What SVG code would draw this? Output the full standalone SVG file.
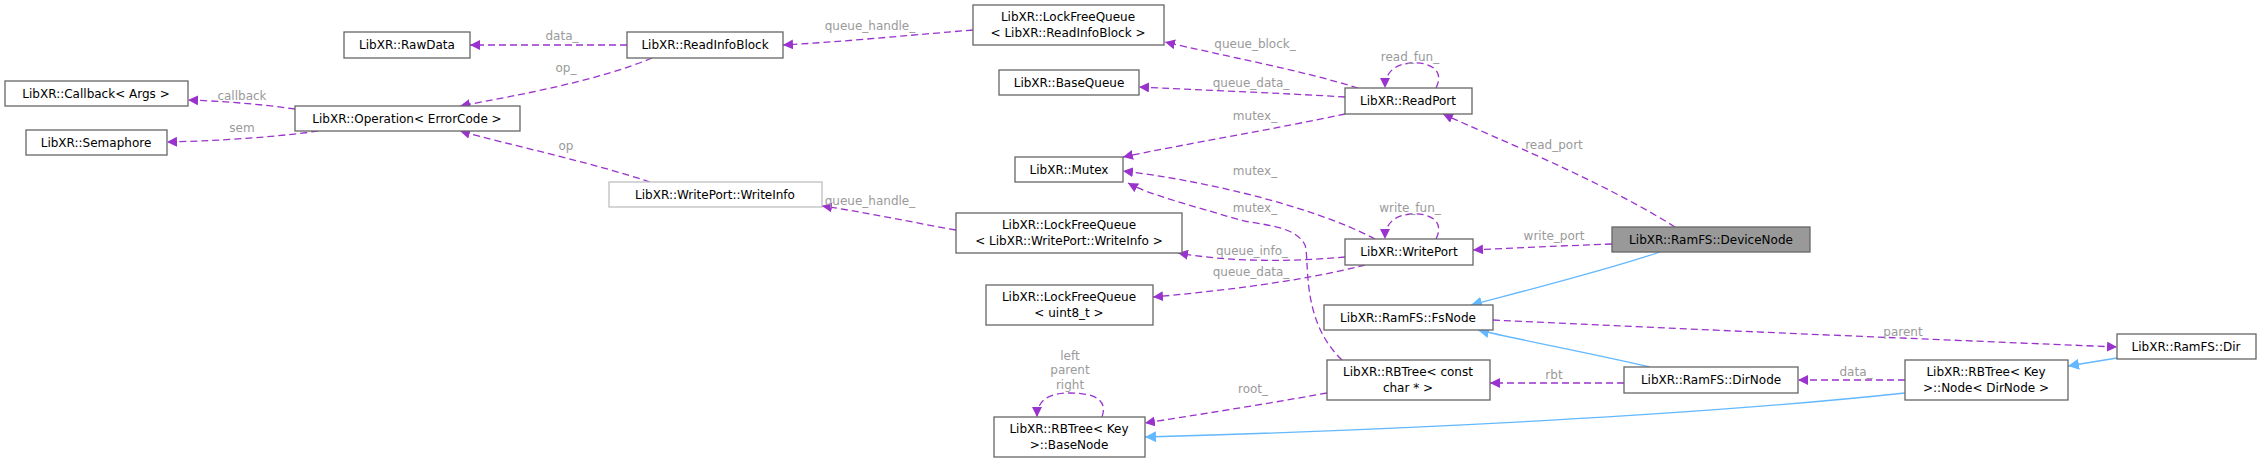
<svg xmlns="http://www.w3.org/2000/svg" width="2261" height="463" viewBox="0 0 2261 463">
<style>
.n rect{fill:#fff;stroke:#666;stroke-width:1.3}
.n text{font-family:"DejaVu Sans",sans-serif;font-size:12px;fill:#000;text-anchor:middle}
.u{fill:none;stroke:#9a32cd;stroke-width:1.3;stroke-dasharray:7,4;marker-end:url(#ap)}
.i{fill:none;stroke:#63b8ff;stroke-width:1.3;marker-end:url(#ab)}
.l{font-family:"DejaVu Sans",sans-serif;font-size:12px;fill:#9a9a9a;text-anchor:middle}
</style>
<defs>
<marker id="ap" viewBox="0 0 10 10" refX="10" refY="5" markerWidth="10" markerHeight="10" markerUnits="userSpaceOnUse" orient="auto"><path d="M0,0L10,5L0,10z" fill="#9a32cd"/></marker>
<marker id="ab" viewBox="0 0 10 10" refX="10" refY="5" markerWidth="11" markerHeight="11" markerUnits="userSpaceOnUse" orient="auto"><path d="M0,0L10,5L0,10z" fill="#63b8ff"/></marker>
</defs>
<rect width="2261" height="463" fill="#fff"/>
<g id="edges">
<path class="u" d="M627,45L470,45"/><text class="l" x="562" y="40">data_</text>
<path class="u" d="M652,58C600,80 520,95 460,106"/><text class="l" x="566" y="72">op_</text>
<path class="u" d="M295,109C260,104 220,101 188,100"/><text class="l" x="242" y="100">callback</text>
<path class="u" d="M318,131C270,138 210,141 167,142"/><text class="l" x="242" y="132">sem</text>
<path class="u" d="M650,182C590,162 510,145 460,131"/><text class="l" x="566" y="150">op</text>
<path class="u" d="M973,30C900,36 840,42 783,45"/><text class="l" x="870" y="30">queue_handle_</text>
<path class="u" d="M956,230C910,222 865,212 822,206"/><text class="l" x="870" y="205">queue_handle_</text>
<path class="u" d="M1358,88C1300,70 1220,55 1165,42"/><text class="l" x="1255" y="48">queue_block_</text>
<path class="u" d="M1436,88C1445,70 1430,62 1412,63C1395,64 1385,72 1385,88"/><text class="l" x="1410" y="61">read_fun_</text>
<path class="u" d="M1345,97C1280,93 1200,90 1139,87"/><text class="l" x="1251" y="87">queue_data_</text>
<path class="u" d="M1345,114C1280,128 1180,145 1123,157"/><text class="l" x="1255" y="120">mutex_</text>
<path class="u" d="M1375,239C1310,205 1200,180 1123,171"/><text class="l" x="1255" y="175">mutex_</text>
<path class="u" d="M1342,360C1300,320 1310,260 1305,245C1295,225 1260,225 1240,220C1190,205 1150,195 1128,183"/><text class="l" x="1255" y="212">mutex_</text>
<path class="u" d="M1436,239C1445,221 1430,213 1412,214C1395,215 1385,223 1385,239"/><text class="l" x="1410" y="212">write_fun_</text>
<path class="u" d="M1345,257C1290,262 1230,262 1178,253"/><text class="l" x="1252" y="255">queue_info_</text>
<path class="u" d="M1365,265C1300,282 1210,292 1153,297"/><text class="l" x="1251" y="276">queue_data_</text>
<path class="u" d="M1675,227C1600,180 1500,140 1443,114"/><text class="l" x="1554" y="149">read_port</text>
<path class="u" d="M1612,244C1560,246 1510,248 1473,250"/><text class="l" x="1554" y="240">write_port</text>
<path class="i" d="M1660,252C1600,272 1520,292 1471,305"/>
<path class="u" d="M1493,320C1700,330 1950,340 2117,347"/><text class="l" x="1903" y="336">parent</text>
<path class="i" d="M1650,367C1590,353 1520,340 1478,330"/>
<path class="u" d="M1624,383L1490,383"/><text class="l" x="1554" y="379">rbt</text>
<path class="u" d="M1327,393C1260,405 1190,416 1145,423"/><text class="l" x="1253" y="393">root_</text>
<path class="u" d="M1102,417C1108,400 1095,393 1070,393C1045,393 1037,403 1037,417"/><text class="l" x="1070" y="360">left</text><text class="l" x="1070" y="374">parent</text><text class="l" x="1070" y="389">right</text>
<path class="u" d="M1905,380L1798,380"/><text class="l" x="1856" y="376">data_</text>
<path class="i" d="M1905,393C1700,415 1400,430 1145,437"/>
<path class="i" d="M2117,358L2068,366"/>
</g>
<g id="RawData" class="n"><rect x="344" y="32" width="126" height="26"/><text x="407" y="49">LibXR::RawData</text></g>
<g id="ReadInfoBlock" class="n"><rect x="627" y="32" width="156" height="26"/><text x="705" y="49">LibXR::ReadInfoBlock</text></g>
<g id="Callback" class="n"><rect x="5" y="81" width="183" height="25"/><text x="96" y="98">LibXR::Callback&lt; Args &gt;</text></g>
<g id="Semaphore" class="n"><rect x="26" y="130" width="141" height="25"/><text x="96" y="147">LibXR::Semaphore</text></g>
<g id="Operation" class="n"><rect x="295" y="106" width="225" height="25"/><text x="407" y="123">LibXR::Operation&lt; ErrorCode &gt;</text></g>
<g id="WriteInfo" class="n"><rect x="609" y="182" width="213" height="25" style="stroke:#bfbfbf"/><text x="715" y="199">LibXR::WritePort::WriteInfo</text></g>
<g id="LFQ_RIB" class="n"><rect x="973" y="5" width="191" height="40"/><text x="1068" y="21">LibXR::LockFreeQueue</text><text x="1068" y="37">&lt; LibXR::ReadInfoBlock &gt;</text></g>
<g id="BaseQueue" class="n"><rect x="999" y="70" width="140" height="25"/><text x="1069" y="87">LibXR::BaseQueue</text></g>
<g id="ReadPort" class="n"><rect x="1345" y="88" width="127" height="26"/><text x="1408" y="105">LibXR::ReadPort</text></g>
<g id="Mutex" class="n"><rect x="1015" y="157" width="108" height="25"/><text x="1069" y="174">LibXR::Mutex</text></g>
<g id="LFQ_WI" class="n"><rect x="956" y="213" width="226" height="40"/><text x="1069" y="229">LibXR::LockFreeQueue</text><text x="1069" y="245">&lt; LibXR::WritePort::WriteInfo &gt;</text></g>
<g id="WritePort" class="n"><rect x="1345" y="239" width="128" height="26"/><text x="1409" y="256">LibXR::WritePort</text></g>
<g id="DeviceNode" class="n"><rect x="1612" y="227" width="198" height="25" style="fill:#999"/><text x="1711" y="244">LibXR::RamFS::DeviceNode</text></g>
<g id="LFQ_u8" class="n"><rect x="986" y="285" width="167" height="40"/><text x="1069" y="301">LibXR::LockFreeQueue</text><text x="1069" y="317">&lt; uint8_t &gt;</text></g>
<g id="FsNode" class="n"><rect x="1324" y="305" width="169" height="25"/><text x="1408" y="322">LibXR::RamFS::FsNode</text></g>
<g id="RBTreeConst" class="n"><rect x="1327" y="360" width="163" height="40"/><text x="1408" y="376">LibXR::RBTree&lt; const</text><text x="1408" y="392">char * &gt;</text></g>
<g id="DirNode" class="n"><rect x="1624" y="367" width="174" height="26"/><text x="1711" y="384">LibXR::RamFS::DirNode</text></g>
<g id="BaseNode" class="n"><rect x="994" y="417" width="151" height="40"/><text x="1069" y="433">LibXR::RBTree&lt; Key</text><text x="1069" y="449">&gt;::BaseNode</text></g>
<g id="Dir" class="n"><rect x="2117" y="334" width="139" height="25"/><text x="2186" y="351">LibXR::RamFS::Dir</text></g>
<g id="NodeDir" class="n"><rect x="1905" y="360" width="163" height="40"/><text x="1986" y="376">LibXR::RBTree&lt; Key</text><text x="1986" y="392">&gt;::Node&lt; DirNode &gt;</text></g>
</svg>
